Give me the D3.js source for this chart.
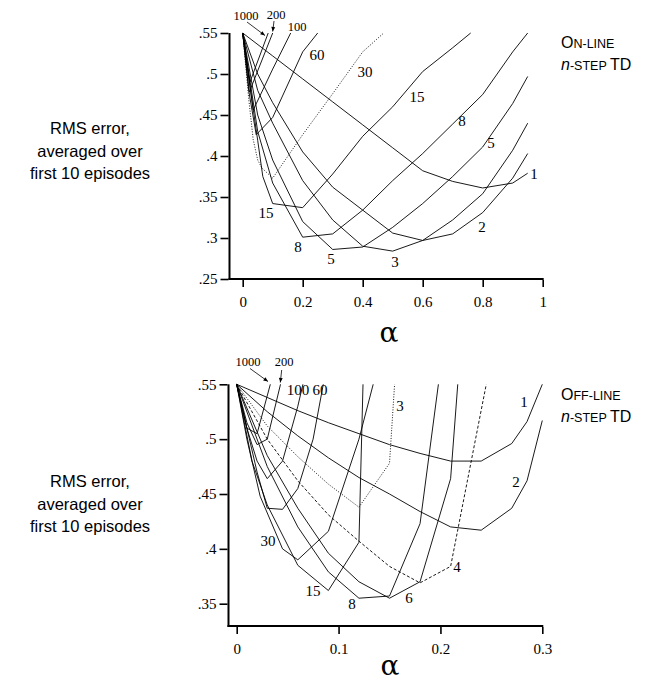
<!DOCTYPE html>
<html>
<head>
<meta charset="utf-8">
<title>On-line and off-line n-step TD</title>
<script src="https://cdn.jsdelivr.net/npm/d3@7"></script>
<style>
  body { margin: 0; background: #fff; }
  svg { display: block; }
</style>
</head>
<body>
<script>
// on-line n-step TD, [alpha, RMS error]
var on1 = [[0,.55],[.1,.522],[.2,.494],[.3,.466],[.4,.438],[.5,.41],[.6,.382],[.7,.369],[.8,.361],[.9,.367],[.95,.379]];
var on2 = [[0,.55],[.05,.5],[.1,.465],[.2,.405],[.3,.362],[.4,.334],[.5,.306],[.6,.297],[.7,.305],[.8,.331],[.9,.373],[.95,.403]];
var on3 = [[0,.55],[.05,.48],[.1,.44],[.2,.37],[.3,.322],[.4,.29],[.5,.284],[.6,.297],[.7,.322],[.8,.354],[.9,.407],[.95,.44]];
var on5 = [[0,.55],[.05,.45],[.1,.395],[.2,.32],[.3,.286],[.4,.289],[.5,.313],[.6,.342],[.7,.375],[.8,.411],[.9,.464],[.95,.497]];
var on8 = [[0,.55],[.05,.43],[.1,.367],[.2,.301],[.3,.305],[.4,.334],[.5,.37],[.6,.403],[.7,.439],[.8,.475],[.9,.527],[.95,.55]];
var on15 = [[0,.55],[.03,.47],[.05,.419],[.067,.375],[.1,.342],[.2,.337],[.3,.378],[.4,.424],[.5,.46],[.6,.503],[.7,.532],[.76,.55]];
var on30 = [[0,.55],[.02,.47],[.035,.42],[.05,.395],[.065,.385],[.1,.373],[.2,.426],[.3,.476],[.4,.527],[.47,.55]];
var on60 = [[0,.55],[.02,.48],[.045,.426],[.1,.447],[.2,.527],[.25,.55]];
var on100 = [[0,.55],[.035,.456],[.1,.506],[.16,.55]];
var on200 = [[0,.55],[.022,.478],[.1,.55]];
var on1000 = [[0,.55],[.024,.49],[.085,.55]];

// off-line n-step TD
var off1 = [[0,.55],[.03,.538],[.06,.526],[.09,.515],[.12,.505],[.15,.495],[.18,.487],[.21,.48],[.24,.48],[.27,.496],[.285,.516],[.3,.55]];
var off2 = [[0,.55],[.03,.525],[.06,.503],[.09,.483],[.12,.465],[.15,.45],[.18,.434],[.21,.42],[.24,.417],[.27,.437],[.285,.462],[.3,.517]];
var off3 = [[0,.55],[.03,.512],[.06,.484],[.09,.459],[.12,.438],[.15,.478],[.155,.55]];
var off4 = [[0,.55],[.03,.5],[.06,.462],[.09,.431],[.12,.407],[.15,.384],[.18,.369],[.21,.384],[.245,.55]];
var off6 = [[0,.55],[.03,.485],[.06,.437],[.09,.396],[.12,.37],[.15,.355],[.18,.37],[.21,.464],[.217,.55]];
var off8 = [[0,.55],[.03,.475],[.06,.42],[.09,.379],[.12,.355],[.15,.357],[.18,.423],[.198,.55]];
var off15 = [[0,.55],[.015,.48],[.03,.44],[.06,.385],[.09,.362],[.12,.406],[.124,.55]];
var off30 = [[0,.55],[.01,.5],[.023,.448],[.045,.4],[.06,.39],[.09,.416],[.12,.5],[.134,.55]];
var off60 = [[0,.55],[.01,.51],[.02,.47],[.03,.437],[.045,.436],[.06,.455],[.075,.5],[.085,.55]];
var off100 = [[0,.55],[.01,.51],[.02,.48],[.03,.464],[.045,.48],[.06,.53],[.065,.55]];
var off200 = [[0,.55],[.01,.515],[.02,.495],[.03,.5],[.043,.55]];
var off1000 = [[0,.55],[.01,.51],[.02,.505],[.033,.55]];

var onSeries = [on1, on2, on3, on5, on8, on15, on30, on60, on100, on200, on1000];
var onNames = ["1","2","3","5","8","15","30","60","100","200","1000"];
var offSeries = [off1, off2, off3, off4, off6, off8, off15, off30, off60, off100, off200, off1000];
var offNames = ["1","2","3","4","6","8","15","30","60","100","200","1000"];

var onXTicks = [0, .2, .4, .6, .8, 1];
var onYTicks = [.25, .3, .35, .4, .45, .5, .55];
var offXTicks = [0, .1, .2, .3];
var offYTicks = [.35, .4, .45, .5, .55];

// line styles
var dotted = {"on30": true, "off3": true};
var dashed = {"off4": true};

var serif = "'Liberation Serif', 'Times New Roman', serif";
var sans = "'Liberation Sans', Arial, Helvetica, sans-serif";

var svg = d3.select("body").append("svg")
    .attr("width", 659)
    .attr("height", 682);

function yFmt(d) { return d3.format(".2~f")(d).replace(/^0/, ""); }

function panel(o) {
    var x = d3.scaleLinear().domain(o.xDomain).range(o.xRange);
    var y = d3.scaleLinear().domain(o.yDomain).range(o.yRange);
    var g = svg.append("g");

    // axis lines
    g.append("line")
        .attr("x1", o.axisX).attr("x2", o.axisX)
        .attr("y1", y(.55)).attr("y2", o.axisY + 1)
        .attr("stroke", "#000").attr("stroke-width", 2);
    g.append("line")
        .attr("x1", o.axisX - 1).attr("x2", x(o.xDomain[1]) + 1)
        .attr("y1", o.axisY).attr("y2", o.axisY)
        .attr("stroke", "#000").attr("stroke-width", 2);

    var yAxis = g.append("g")
        .attr("transform", "translate(" + (o.axisX - 1) + ",0)")
        .call(d3.axisLeft(y).tickValues(o.yTicks).tickSize(8).tickPadding(3).tickFormat(yFmt));
    var xAxis = g.append("g")
        .attr("transform", "translate(0," + (o.axisY + 1) + ")")
        .call(d3.axisBottom(x).tickValues(o.xTicks).tickSize(7).tickPadding(9).tickFormat(d3.format("~g")));
    [yAxis, xAxis].forEach(function(a) {
        a.select(".domain").remove();
        a.selectAll(".tick line").attr("stroke", "#000").attr("stroke-width", 1.6);
        a.selectAll(".tick text")
            .attr("font-family", serif).attr("font-size", 15).attr("fill", "#000");
    });

    var line = d3.line()
        .x(function(d) { return x(d[0]); })
        .y(function(d) { return y(d[1]); });

    g.selectAll("path.curve")
        .data(o.series)
        .enter().append("path")
        .attr("class", "curve")
        .attr("d", line)
        .attr("fill", "none")
        .attr("stroke", "#000")
        .attr("stroke-width", 0.9)
        .attr("stroke-linejoin", "round")
        .attr("stroke-dasharray", function(d, i) {
            var k = o.key + o.names[i];
            if (dotted[k]) return "1,1.6";
            if (dashed[k]) return "3,2";
            return null;
        });

    // alpha label
    g.append("text")
        .attr("x", o.alphaPos[0]).attr("y", o.alphaPos[1])
        .attr("text-anchor", "middle")
        .attr("font-family", "'DejaVu Serif', serif")
        .attr("font-size", 28)
        .text("\u03b1");

    // y title
    var t = g.append("text")
        .attr("font-family", sans).attr("font-size", 16.5)
        .attr("text-anchor", "middle");
    ["RMS error,", "averaged over", "first 10 episodes"].forEach(function(s, i) {
        t.append("tspan").attr("x", 90).attr("y", o.titleY + i * 22.5).text(s);
    });

    // curve labels
    g.selectAll("text.lab")
        .data(o.labels)
        .enter().append("text")
        .attr("class", "lab")
        .attr("x", function(d) { return d[1]; })
        .attr("y", function(d) { return d[2]; })
        .attr("text-anchor", "middle")
        .attr("font-family", serif)
        .attr("font-size", function(d) { return d[3] || 15; })
        .text(function(d) { return d[0]; });

    // pointer arrows
    o.arrows.forEach(function(a) {
        g.append("line")
            .attr("x1", a[0]).attr("y1", a[1]).attr("x2", a[2]).attr("y2", a[3])
            .attr("stroke", "#000").attr("stroke-width", 0.8);
        var ang = Math.atan2(a[3] - a[1], a[2] - a[0]);
        var L = 5, w = 0.4;
        g.append("path")
            .attr("d", "M" + a[2] + "," + a[3] +
                "L" + (a[2] - L * Math.cos(ang - w)) + "," + (a[3] - L * Math.sin(ang - w)) +
                "L" + (a[2] - L * Math.cos(ang + w)) + "," + (a[3] - L * Math.sin(ang + w)) + "Z")
            .attr("fill", "#000");
    });

    // method title
    var m = g.append("text")
        .attr("font-family", sans).attr("font-size", 16).attr("fill", "#000");
    var l1 = m.append("tspan").attr("x", 561).attr("y", o.methodY);
    l1.append("tspan").text(o.method[0]);
    l1.append("tspan").attr("font-size", 12.5).text(o.method[1]);
    var l2 = m.append("tspan").attr("x", 561).attr("y", o.methodY + 22);
    l2.append("tspan").attr("font-style", "italic").text("n");
    l2.append("tspan").attr("font-size", 12.5).text("-STEP ");
    l2.append("tspan").text("TD");
}

panel({
    key: "on",
    xDomain: [0, 1], xRange: [242.7, 542.7],
    yDomain: [.25, .55], yRange: [279, 33],
    axisX: 229.5, axisY: 279,
    xTicks: onXTicks, yTicks: onYTicks,
    series: onSeries, names: onNames,
    alphaPos: [389, 342],
    titleY: 134,
    methodY: 48,
    method: ["O", "N-LINE"],
    labels: [["1000", 246, 20, 12.5], ["200", 276, 19, 12.5], ["100", 297, 31, 12.5],
             ["60", 317, 60], ["30", 365, 77], ["15", 417, 102], ["8", 462, 126],
             ["5", 491, 148], ["1", 534, 179], ["15", 266, 218], ["8", 298, 252],
             ["5", 331, 264], ["3", 395, 267], ["2", 482, 232]],
    arrows: [[247, 22, 265, 35.5], [274, 21, 272.7, 31.5]]
});

panel({
    key: "off",
    xDomain: [0, .3], xRange: [236.7, 542.3],
    yDomain: [.35, .55], yRange: [603.7, 384.3],
    axisX: 228.5, axisY: 626,
    xTicks: offXTicks, yTicks: offYTicks,
    series: offSeries, names: offNames,
    alphaPos: [390, 675],
    titleY: 487,
    methodY: 400,
    method: ["O", "FF-LINE"],
    labels: [["1000", 248, 366, 12.5], ["200", 284, 366, 12.5], ["100", 298, 395], ["60", 320, 395],
             ["3", 400, 411], ["1", 524, 407], ["2", 516, 487], ["30", 268, 546],
             ["4", 457, 572], ["15", 313, 596], ["8", 352, 609], ["6", 409, 603]],
    arrows: [[250, 368.5, 268, 381.5], [281.7, 370, 280.3, 382.5]]
});
</script>
</body>
</html>
